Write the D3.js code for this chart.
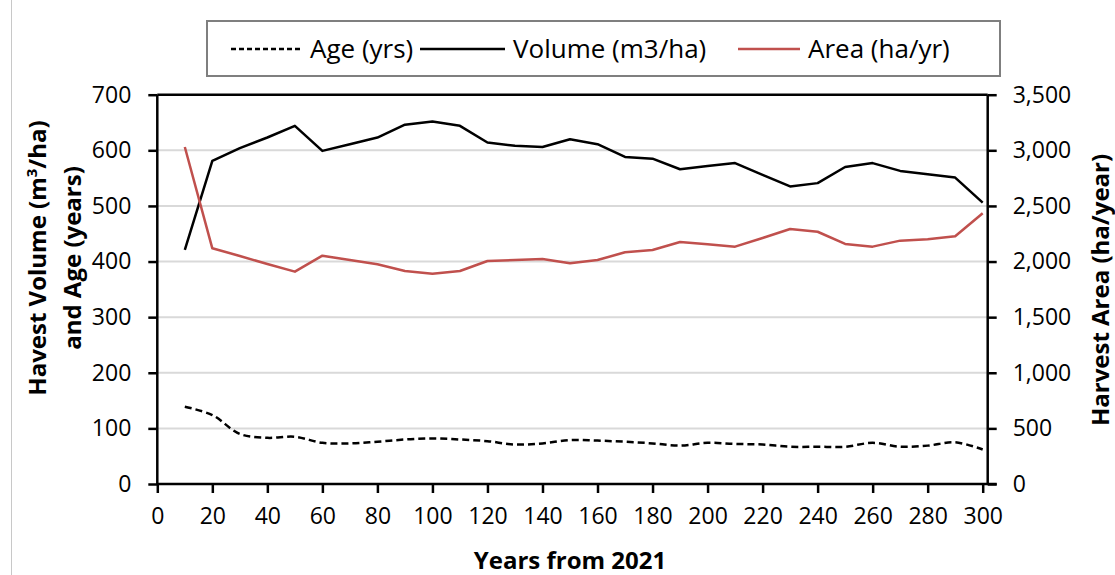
<!DOCTYPE html>
<html>
<head>
<meta charset="utf-8">
<script src="https://cdn.jsdelivr.net/npm/d3@7"></script>
<style>
  body { margin: 0; background: #fff; }
  svg { display: block; }
  text { font-family: "Open Sans", "Liberation Sans", sans-serif; fill: #000; }
</style>
</head>
<body>
<svg id="chart" width="1115" height="575"></svg>
<script>
// Harvest projections, every 10 years from 2021
const years = [10, 20, 30, 40, 50, 60, 70, 80, 90, 100, 110, 120, 130, 140, 150,
               160, 170, 180, 190, 200, 210, 220, 230, 240, 250, 260, 270, 280, 290, 300];
const volume = [421, 581, 604, 623, 644, 599, 611, 623, 646, 652, 644, 614, 608, 606, 620,
                611, 588, 585, 566, 572, 577, 556, 535, 541, 570, 577, 563, 557, 551, 506];
const area = [3030, 2119, 2050, 1978, 1909, 2053, 2014, 1975, 1915, 1891, 1915, 2005, 2014, 2023, 1984,
              2014, 2083, 2104, 2176, 2155, 2134, 2212, 2292, 2268, 2158, 2134, 2188, 2200, 2227, 2434];
const age = [139, 124, 90, 83, 85, 74, 73, 76, 80, 82, 80, 77, 71, 73, 79,
             78, 76, 73, 69, 74, 72, 71, 67, 67, 67, 74, 67, 69, 75, 62];

const xTicks = [0, 20, 40, 60, 80, 100, 120, 140, 160, 180, 200, 220, 240, 260, 280, 300];
const leftTicks = [0, 100, 200, 300, 400, 500, 600, 700];
const rightTicks = [0, 500, 1000, 1500, 2000, 2500, 3000, 3500];
const legendLabels = ["Age (yrs)", "Volume (m3/ha)", "Area (ha/yr)"];

const RED = "#c0504d";
const svg = d3.select("#chart");

// plot frame
const plot = { left: 157.3, right: 987.7, top: 94.7, bottom: 484 };

const x = d3.scaleLinear().domain([0, 300]).range([plot.left, 982.7]);
const yL = d3.scaleLinear().domain([0, 700]).range([plot.bottom, plot.top]);
const yR = d3.scaleLinear().domain([0, 3500]).range([plot.bottom, plot.top]);

// outer frame edge on the left
svg.append("line").attr("x1", 11.5).attr("x2", 11.5).attr("y1", 0).attr("y2", 575)
  .attr("stroke", "#c8c8c8").attr("stroke-width", 1);

// horizontal gridlines
svg.append("g").selectAll("line")
  .data(leftTicks.filter(d => d > 0 && d < 700))
  .join("line")
  .attr("x1", plot.left).attr("x2", plot.right)
  .attr("y1", d => yL(d)).attr("y2", d => yL(d))
  .attr("stroke", "#d9d9d9").attr("stroke-width", 2);

// top border of the plot area
svg.append("line")
  .attr("x1", plot.left).attr("x2", plot.right)
  .attr("y1", plot.top).attr("y2", plot.top)
  .attr("stroke", "#000").attr("stroke-width", 2.5);

const tickFont = "23px";

// left axis
const gL = svg.append("g").attr("transform", `translate(${plot.left},0)`)
  .call(d3.axisLeft(yL).tickValues(leftTicks).tickSize(9).tickPadding(17).tickFormat(d3.format("d")));
// right axis
const gR = svg.append("g").attr("transform", `translate(${plot.right},0)`)
  .call(d3.axisRight(yR).tickValues(rightTicks).tickSize(9).tickPadding(16).tickFormat(d3.format(",")));
// bottom axis
const gB = svg.append("g").attr("transform", `translate(0,${plot.bottom})`)
  .call(d3.axisBottom(x).tickValues(xTicks).tickSize(9).tickPadding(15).tickFormat(d3.format("d")));

[gL, gR, gB].forEach(g => {
  g.select(".domain").attr("stroke", "#000").attr("stroke-width", 2.5);
  g.selectAll(".tick line").attr("stroke", "#000").attr("stroke-width", 2.5);
  g.selectAll(".tick text").attr("font-size", tickFont).attr("font-family", null);
});
gL.select(".domain").attr("d", `M0,${plot.bottom}V${plot.top}`);
gR.select(".domain").attr("d", `M0,${plot.bottom}V${plot.top}`);
gB.select(".domain").attr("d", `M${plot.left},0H${plot.right + 9}`);

// series
const lineVol = d3.line().x((d, i) => x(years[i])).y(d => yL(d));
const lineArea = d3.line().x((d, i) => x(years[i])).y(d => yR(d));
const lineAge = d3.line().x((d, i) => x(years[i])).y(d => yL(d)).curve(d3.curveCatmullRom.alpha(0.5));

svg.append("path").attr("d", lineAge(age)).attr("fill", "none")
  .attr("stroke", "#000").attr("stroke-width", 2.5).attr("stroke-dasharray", "7,4");
svg.append("path").attr("d", lineVol(volume)).attr("fill", "none")
  .attr("stroke", "#000").attr("stroke-width", 2.5).attr("stroke-linejoin", "round");
svg.append("path").attr("d", lineArea(area)).attr("fill", "none")
  .attr("stroke", RED).attr("stroke-width", 2.5).attr("stroke-linejoin", "round");

// axis titles
const titleFont = "24px";
const leftTitle = svg.append("text")
  .attr("transform", "translate(46,258) rotate(-90)")
  .attr("text-anchor", "middle").attr("font-size", titleFont).attr("font-weight", "bold");
leftTitle.append("tspan").text("Havest Volume (m");
leftTitle.append("tspan").attr("font-size", "15px").attr("dy", -9).text("3");
leftTitle.append("tspan").attr("dy", 9).text("/ha)");
svg.append("text")
  .attr("transform", "translate(81,258) rotate(-90)")
  .attr("text-anchor", "middle").attr("font-size", titleFont).attr("font-weight", "bold")
  .text("and Age (years)");

svg.append("text")
  .attr("transform", "translate(1109,290) rotate(-90)")
  .attr("text-anchor", "middle").attr("font-size", titleFont).attr("font-weight", "bold")
  .text("Harvest Area (ha/year)");

svg.append("text")
  .attr("x", 570).attr("y", 569)
  .attr("text-anchor", "middle").attr("font-size", titleFont).attr("font-weight", "bold")
  .text("Years from 2021");

// legend
const legend = svg.append("g");
legend.append("rect").attr("x", 207).attr("y", 21).attr("width", 793).attr("height", 55)
  .attr("fill", "#fff").attr("stroke", "#7f7f7f").attr("stroke-width", 2);

const legendItems = [
  { label: legendLabels[0], color: "#000", dash: "5,3", x0: 231, x1: 302, tx: 310 },
  { label: legendLabels[1], color: "#000", dash: null, x0: 420, x1: 505, tx: 513 },
  { label: legendLabels[2], color: RED, dash: null, x0: 738, x1: 800, tx: 808 }
];
legendItems.forEach(it => {
  legend.append("line").attr("x1", it.x0).attr("x2", it.x1).attr("y1", 49).attr("y2", 49)
    .attr("stroke", it.color).attr("stroke-width", 2.5)
    .attr("stroke-dasharray", it.dash);
  legend.append("text").attr("x", it.tx).attr("y", 58).attr("font-size", "26px").text(it.label);
});
</script>
</body>
</html>
